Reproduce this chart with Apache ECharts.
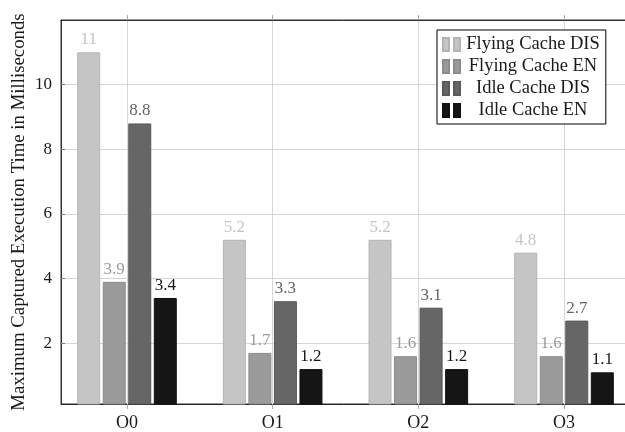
<!DOCTYPE html>
<html>
<head>
<meta charset="utf-8">
<script src="https://cdn.jsdelivr.net/npm/echarts@6/dist/echarts.min.js"></script>
<style>
html,body{margin:0;padding:0;background:#fff;}
#chart{width:625px;height:432px;}
</style>
</head>
<body>
<div id="chart"></div>
<script>
const categories = ['O0', 'O1', 'O2', 'O3'];
const seriesNames = ['Flying Cache DIS', 'Flying Cache EN', 'Idle Cache DIS', 'Idle Cache EN'];
const flyingCacheDis = [11, 5.2, 5.2, 4.8];
const flyingCacheEn = [3.9, 1.7, 1.6, 1.6];
const idleCacheDis = [8.8, 3.3, 3.1, 2.7];
const idleCacheEn = [3.4, 1.2, 1.2, 1.1];
const yTicks = [2, 4, 6, 8, 10];
const yAxisTitle = 'Maximum Captured Execution Time in Milliseconds';

const fills = ['#c4c5c4', '#9a9a9a', '#666666', '#151515'];
const borders = ['#b4b4b4', '#8c8c8c', '#5a5a5a', '#111111'];
const FONT = 'Liberation Serif';
const xIdx = categories.map((c, i) => i);

const allValues = [flyingCacheDis, flyingCacheEn, idleCacheDis, idleCacheEn];

const chart = echarts.init(document.getElementById('chart'), null, {renderer: 'canvas'});

const series = allValues.map((vals, s) => ({
  name: seriesNames[s],
  type: 'bar',
  data: vals.map((v, i) => [xIdx[i], v]),
  barWidth: 23,
  barGap: '11%',
  itemStyle: { color: fills[s], borderColor: borders[s], borderWidth: 1 },
  label: {
    show: true,
    position: 'top',
    distance: 4,
    formatter: p => String(p.value[1]),
    color: fills[s],
    fontFamily: FONT,
    fontSize: 17
  },
  emphasis: { disabled: true },
  animation: false
}));

const option = {
  animation: false,
  grid: { left: 61, top: 20, right: -5, bottom: 28, show: true, borderColor: '#333', borderWidth: 1, containLabel: false, outerBoundsMode: 'none' },
  legend: {
    orient: 'vertical',
    left: 437,
    top: 30,
    padding: [5, 6, 4, 5],
    itemGap: 3,
    itemWidth: 17,
    itemHeight: 13,
    icon: 'path://M0,0h6v13h-6zM11,0h6v13h-6z',
    backgroundColor: '#fff',
    borderColor: '#000',
    borderWidth: 1,
    selectedMode: false,
    formatter: n => '{c|' + n + '}',
    textStyle: {
      fontFamily: FONT, fontSize: 18.5, color: '#1a1a1a',
      rich: { c: { width: 136, align: 'center', fontFamily: FONT, fontSize: 18.5, color: '#1a1a1a' } }
    },
    data: seriesNames
  },
  xAxis: [{
    type: 'value',
    min: -0.453,
    max: 3.453,
    axisLine: { show: true, onZero: false, lineStyle: { color: '#222', width: 1 } },
    axisTick: { show: true, customValues: xIdx, length: 5, inside: false, lineStyle: { color: '#aaa' } },
    axisLabel: { customValues: xIdx, formatter: v => categories[Math.round(v)] || '', fontFamily: FONT, fontSize: 18, color: '#1a1a1a', margin: 10 },
    splitLine: { show: true, lineStyle: { color: '#d6d6d6', width: 1 } }
  }, {
    type: 'value',
    position: 'top',
    min: -0.453,
    max: 3.453,
    axisLine: { show: true, onZero: false, lineStyle: { color: '#333', width: 1 } },
    axisTick: { show: true, customValues: xIdx, length: 5, lineStyle: { color: '#aaa' } },
    axisLabel: { show: false },
    splitLine: { show: false }
  }],
  yAxis: {
    type: 'value',
    min: 0.12,
    max: 12,
    name: yAxisTitle,
    nameLocation: 'middle',
    nameGap: 32,
    nameMoveOverlap: false,
    nameTextStyle: { fontFamily: FONT, fontSize: 18.8, color: '#1a1a1a' },
    axisLine: { show: true, onZero: false, lineStyle: { color: '#333', width: 1 } },
    axisTick: { show: true, customValues: yTicks, inside: true, length: 4, lineStyle: { color: '#777' } },
    axisLabel: { customValues: yTicks, fontFamily: FONT, fontSize: 17, color: '#1a1a1a', margin: 9 },
    splitLine: { show: true, lineStyle: { color: '#d6d6d6', width: 1 } }
  },
  series: series
};
chart.setOption(option);
</script>
</body>
</html>
